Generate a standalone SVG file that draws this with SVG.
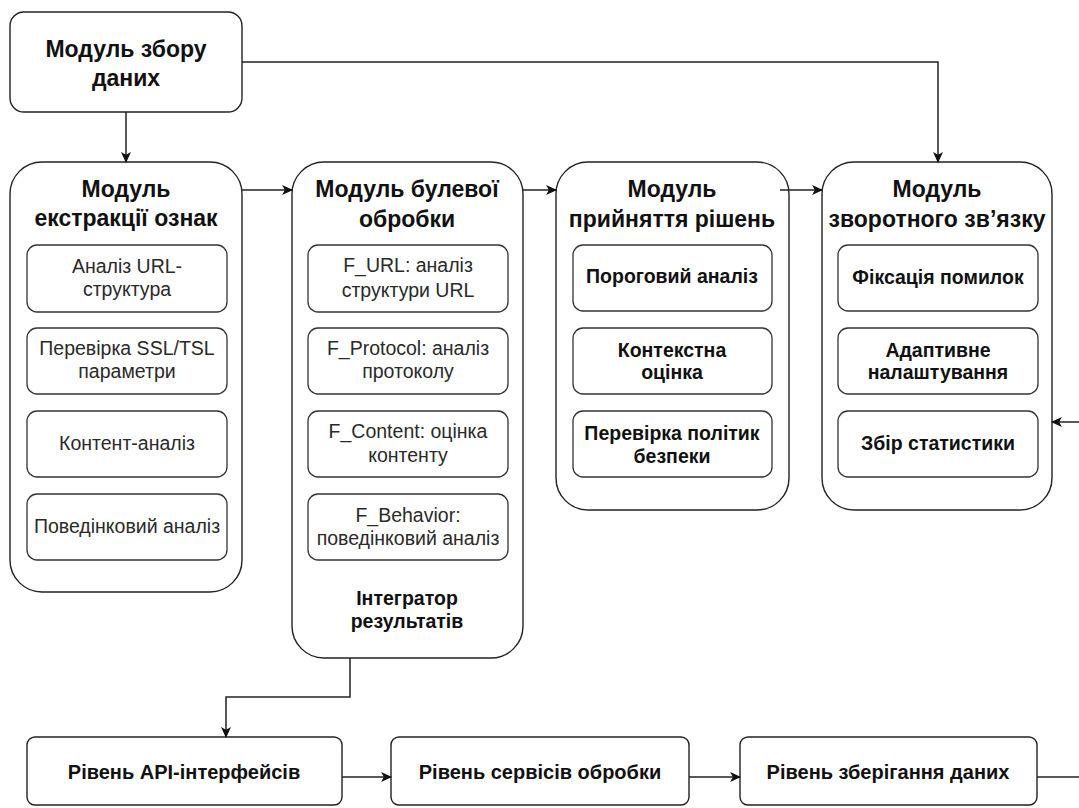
<svg xmlns="http://www.w3.org/2000/svg" width="1079" height="808" viewBox="0 0 1079 808">
  <defs>
    <style>
      .box { fill: #ffffff; stroke: #222222; stroke-width: 1.4; }
      .sub { fill: #ffffff; stroke: #333333; stroke-width: 1.3; }
      .t { font-family: "Liberation Sans", Arial, sans-serif; text-anchor: middle; }
      .title { font-size: 23px; font-weight: bold; fill: #111111; }
      .item { font-size: 19.5px; fill: #2a2a2a; }
      .itemb { font-size: 19.5px; font-weight: bold; fill: #111111; }
      .layer { font-size: 20px; font-weight: bold; fill: #111111; }
      .edge { fill: none; stroke: #222222; stroke-width: 1.5; }
    </style>
    <marker id="arrow" viewBox="0 0 10 10" refX="9" refY="5" markerWidth="11" markerHeight="11" markerUnits="userSpaceOnUse" orient="auto">
      <path d="M0,0.5 L10,5 L0,9.5 L2.5,5 Z" fill="#111111"/>
    </marker>
  </defs>
  <rect width="1079" height="808" fill="#ffffff"/>

  <!-- data collection -->
  <g id="data-collection">
    <rect class="box" x="10" y="12" width="232" height="100" rx="14"/>
    <text class="t title" x="126" y="57">Модуль збору</text>
    <text class="t title" x="126" y="86">даних</text>
  </g>

  <!-- feature extraction -->
  <g id="feature-extraction">
    <rect class="box" x="10" y="162" width="232" height="430" rx="32"/>
    <text class="t title" x="126" y="197">Модуль</text>
    <text class="t title" x="126" y="226">екстракції ознак</text>
    <rect class="sub" x="27" y="245" width="200" height="67" rx="10"/>
    <text class="t item" x="127" y="273">Аналіз URL-</text>
    <text class="t item" x="127" y="296">структура</text>
    <rect class="sub" x="27" y="328" width="200" height="66" rx="10"/>
    <text class="t item" x="127" y="355">Перевірка SSL/TSL</text>
    <text class="t item" x="127" y="378">параметри</text>
    <rect class="sub" x="27" y="411" width="200" height="66" rx="10"/>
    <text class="t item" x="127" y="450">Контент-аналіз</text>
    <rect class="sub" x="27" y="494" width="200" height="66" rx="10"/>
    <text class="t item" x="127" y="533">Поведінковий аналіз</text>
  </g>

  <!-- boolean processing -->
  <g id="boolean-processing">
    <rect class="box" x="292" y="162" width="231" height="496" rx="32"/>
    <text class="t title" x="407" y="197">Модуль булевої</text>
    <text class="t title" x="407" y="227">обробки</text>
    <rect class="sub" x="308" y="245" width="200" height="67" rx="10"/>
    <text class="t item" x="408" y="272">F_URL: аналіз</text>
    <text class="t item" x="408" y="297">структури URL</text>
    <rect class="sub" x="308" y="328" width="200" height="66" rx="10"/>
    <text class="t item" x="408" y="355">F_Protocol: аналіз</text>
    <text class="t item" x="408" y="378">протоколу</text>
    <rect class="sub" x="308" y="411" width="200" height="66" rx="10"/>
    <text class="t item" x="408" y="438">F_Content: оцінка</text>
    <text class="t item" x="408" y="462">контенту</text>
    <rect class="sub" x="308" y="494" width="200" height="66" rx="10"/>
    <text class="t item" x="408" y="522">F_Behavior:</text>
    <text class="t item" x="408" y="545">поведінковий аналіз</text>
    <text class="t itemb" x="407" y="605">Інтегратор</text>
    <text class="t itemb" x="407" y="628">результатів</text>
  </g>

  <!-- decision making -->
  <g id="decision-making">
    <rect class="box" x="556" y="162" width="233" height="348" rx="32"/>
    <text class="t title" x="672" y="197">Модуль</text>
    <text class="t title" x="672" y="227">прийняття рішень</text>
    <rect class="sub" x="573" y="245" width="199" height="66" rx="10"/>
    <text class="t itemb" x="672" y="283">Пороговий аналіз</text>
    <rect class="sub" x="573" y="328" width="199" height="66" rx="10"/>
    <text class="t itemb" x="672" y="357">Контекстна</text>
    <text class="t itemb" x="672" y="379">оцінка</text>
    <rect class="sub" x="573" y="411" width="199" height="66" rx="10"/>
    <text class="t itemb" x="672" y="440">Перевірка політик</text>
    <text class="t itemb" x="672" y="463">безпеки</text>
  </g>

  <!-- feedback -->
  <g id="feedback">
    <rect class="box" x="822" y="162" width="230" height="348" rx="32"/>
    <text class="t title" x="937" y="197">Модуль</text>
    <text class="t title" x="937" y="227">зворотного зв’язку</text>
    <rect class="sub" x="838" y="245" width="200" height="66" rx="10"/>
    <text class="t itemb" x="938" y="284">Фіксація помилок</text>
    <rect class="sub" x="838" y="328" width="200" height="66" rx="10"/>
    <text class="t itemb" x="938" y="357">Адаптивне</text>
    <text class="t itemb" x="938" y="379">налаштування</text>
    <rect class="sub" x="838" y="411" width="200" height="66" rx="10"/>
    <text class="t itemb" x="938" y="450">Збір статистики</text>
  </g>

  <!-- layers -->
  <g id="api-layer">
    <rect class="box" x="27" y="737" width="315" height="68" rx="8"/>
    <text class="t layer" x="184" y="779">Рівень API-інтерфейсів</text>
  </g>
  <g id="service-layer">
    <rect class="box" x="391" y="737" width="298" height="68" rx="8"/>
    <text class="t layer" x="540" y="779">Рівень сервісів обробки</text>
  </g>
  <g id="storage-layer">
    <rect class="box" x="740" y="737" width="297" height="68" rx="8"/>
    <text class="t layer" x="888" y="779">Рівень зберігання даних</text>
  </g>

  <!-- connectors -->
  <g id="connectors">
    <path class="edge" d="M126,112 L126,162" marker-end="url(#arrow)"/>
    <path class="edge" d="M242,62 L938,62 L938,162" marker-end="url(#arrow)"/>
    <path class="edge" d="M242,190 L292,190" marker-end="url(#arrow)"/>
    <path class="edge" d="M523,190 L556,190" marker-end="url(#arrow)"/>
    <path class="edge" d="M780,190 L822,190" marker-end="url(#arrow)"/>
    <path class="edge" d="M1079,422 L1052,422" marker-end="url(#arrow)"/>
    <path class="edge" d="M350,658 L350,697 L226,697 L226,737" marker-end="url(#arrow)"/>
    <path class="edge" d="M342,777 L391,777" marker-end="url(#arrow)"/>
    <path class="edge" d="M689,777 L740,777" marker-end="url(#arrow)"/>
    <path class="edge" d="M1037,777 L1079,777"/>
  </g>
</svg>
